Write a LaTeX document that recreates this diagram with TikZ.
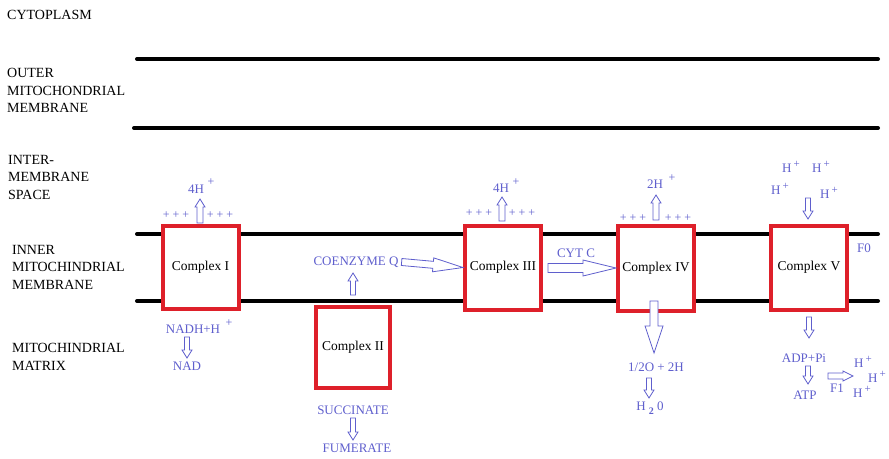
\documentclass[tikz,border=0pt]{standalone}
\usepackage{fontspec}
\setmainfont{Liberation Serif}
\usetikzlibrary{calc}
\definecolor{etcblue}{RGB}{95,95,205}
\definecolor{etcred}{RGB}{222,32,42}
\newcommand\harrow[5]{%
  \coordinate (hA) at #1; \coordinate (hB) at #2;
  \coordinate (hH) at ($(hB)!#5!(hA)$);
  \draw[hollow] ($(hA)!#3!90:(hB)$) -- ($(hH)!#3!90:(hB)$) -- ($(hH)!#4!90:(hB)$) -- (hB)
     -- ($(hH)!#4!-90:(hB)$) -- ($(hH)!#3!-90:(hB)$) -- ($(hA)!#3!-90:(hB)$) -- cycle;}
\newcommand\hplus{\,\raisebox{4.5pt}{\fontsize{11}{12}\selectfont +}}
\tikzset{
  membrane/.style={line width=4pt, line cap=round},
  cbox/.style={draw=etcred, line width=4pt, fill=white, minimum width=76pt, minimum height=83pt,
    inner sep=0pt, font=\fontsize{13.5}{16}\selectfont},
  btxt/.style={text=etcblue, font=\fontsize{13}{15}\selectfont, inner sep=0pt},
  plus/.style={text=etcblue, font=\fontsize{12}{14}\selectfont, inner sep=0pt},
  lbl/.style={font=\fontsize{14}{17.5}\selectfont, align=left, inner sep=0pt, anchor=west},
  hollow/.style={draw=etcblue, line width=0.8pt, fill=white, line join=miter}
}
\begin{document}
\begin{tikzpicture}[x=1pt,y=-1pt]
\useasboundingbox (0,0) rectangle (889,458);
% region labels
\node[lbl] (cyto) at (7,15) {CYTOPLASM};
\node[lbl] (outer) at (7,90.5) {OUTER\\MITOCHONDRIAL\\MEMBRANE};
\node[lbl] (inter) at (8,177) {INTER-\\MEMBRANE\\SPACE};
\node[lbl] (inner) at (12,267) {INNER\\MITOCHINDRIAL\\MEMBRANE};
\node[lbl] (matrix) at (12,357) {MITOCHINDRIAL\\MATRIX};
% membranes
\draw[membrane] (137,59) -- (878,59);
\draw[membrane] (134,128) -- (878,128);
\draw[membrane] (137,234) -- (878,234);
\draw[membrane] (137,301) -- (878,301);
% complexes
\node[cbox] (c1) at (200.5,267) {Complex I};
\node[cbox, minimum width=74pt, minimum height=81pt] (c2) at (353,347.5) {Complex II};
\node[cbox, minimum height=84pt] (c3) at (503,267.5) {Complex III};
\node[cbox, minimum height=85pt] (c4) at (656,268) {Complex IV};
\node[cbox, minimum height=84pt] (c5) at (809,267.5) {Complex V};
% Complex I
\node[btxt] (h1) at (196,189) {4H};
\node[plus] (h1s) at (211,182) {+};
\node[plus] (p1l) at (176,215) {+ + +};
\node[plus] (p1r) at (220,215) {+ + +};
\coordinate (a1s) at (200,223); \coordinate (a1e) at (200,199);
\harrow{(a1s)}{(a1e)}{3pt}{5pt}{8pt}
\node[btxt] (nadh) at (193,329) {NADH+H};
\node[plus] (nadhs) at (229,323) {+};
\node[btxt] (nad) at (187,366) {NAD};
\coordinate (a2s) at (187,337); \coordinate (a2e) at (187,358);
\harrow{(a2s)}{(a2e)}{2.5pt}{5pt}{8pt}
% Complex II
\node[btxt] (succ) at (353,410) {SUCCINATE};
\node[btxt] (fum) at (357,448) {FUMERATE};
\coordinate (a3s) at (353,418); \coordinate (a3e) at (353,440);
\harrow{(a3s)}{(a3e)}{2.5pt}{5pt}{8pt}
\node[btxt] (coq) at (356,262) {COENZYME Q};
\coordinate (a4s) at (353,295); \coordinate (a4e) at (353,273);
\harrow{(a4s)}{(a4e)}{2.5pt}{5pt}{8pt}
\harrow{($(coq.east)+(3,0)$)}{(c3.west)}{3.5pt}{7pt}{30pt}
% Complex III
\node[btxt] (h3) at (501,188) {4H};
\node[plus] (h3s) at (516,182) {+};
\node[plus] (p3l) at (479,213) {+ + +};
\node[plus] (p3r) at (522,213) {+ + +};
\coordinate (a5s) at (502,221); \coordinate (a5e) at (502,197);
\harrow{(a5s)}{(a5e)}{3pt}{5pt}{8pt}
\node[btxt] (cytc) at (576,253) {CYT C};
\coordinate (a6s) at (548,268);
\harrow{(a6s)}{(c4.west)}{4.5pt}{8pt}{33pt}
% Complex IV
\node[btxt] (h4) at (655,184) {2H};
\node[plus] (h4s) at (672,178) {+};
\node[plus] (p4l) at (633,218) {+ + +};
\node[plus] (p4r) at (678,218) {+ + +};
\coordinate (a7s) at (656,220); \coordinate (a7e) at (656,195);
\harrow{(a7s)}{(a7e)}{3pt}{5pt}{8pt}
\coordinate (a8s) at (654,301); \coordinate (a8e) at (654,353);
\harrow{(a8s)}{(a8e)}{4pt}{9pt}{27pt}
\node[btxt] (o2) at (656,367) {1/2O + 2H};
\node[btxt] (h2o) at (650,408) {H \raisebox{-4pt}{\fontsize{10}{11}\selectfont\textbf{2}} 0};
\coordinate (a9s) at (649,378); \coordinate (a9e) at (649,398);
\harrow{(a9s)}{(a9e)}{2.5pt}{5pt}{8pt}
% Complex V
\node[btxt] (hv1) at (791,167) {H\hplus};
\node[btxt] (hv2) at (821,167) {H\hplus};
\node[btxt] (hv3) at (780,189) {H\hplus};
\node[btxt] (hv4) at (829,193) {H\hplus};
\coordinate (a10s) at (808,198); \coordinate (a10e) at (808,219);
\harrow{(a10s)}{(a10e)}{2.5pt}{5pt}{8pt}
\node[btxt] (f0) at (864,248) {F0};
\coordinate (a11s) at (809,317); \coordinate (a11e) at (809,338);
\harrow{(a11s)}{(a11e)}{2.5pt}{5pt}{8pt}
\node[btxt] (adp) at (804,358) {ADP+Pi};
\node[btxt] (atp) at (805,395) {ATP};
\coordinate (a12s) at (808,366); \coordinate (a12e) at (808,384);
\harrow{(a12s)}{(a12e)}{2.5pt}{5pt}{8pt}
\coordinate (a13s) at (828,376); \coordinate (a13e) at (853,376);
\harrow{(a13s)}{(a13e)}{3pt}{5pt}{10pt}
\node[btxt] (f1) at (837,388) {F1};
\node[btxt] (hx1) at (863,362) {H\hplus};
\node[btxt] (hx2) at (877,377) {H\hplus};
\node[btxt] (hx3) at (862,392) {H\hplus};
\end{tikzpicture}
\end{document}
